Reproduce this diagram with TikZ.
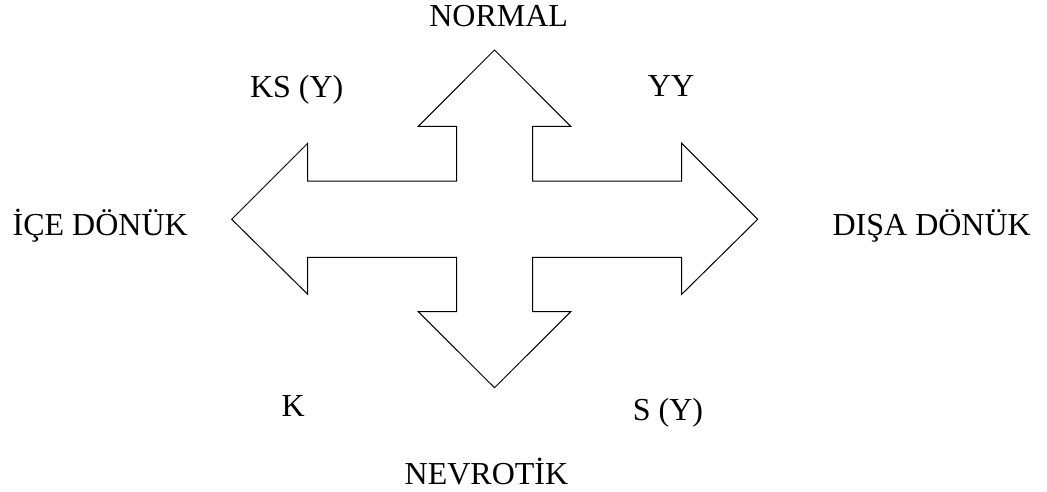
\documentclass[tikz,border=0pt]{standalone}
\usepackage{fontspec}
\setmainfont{Liberation Serif}
\begin{document}
\begin{tikzpicture}[x=1pt,y=-1pt,
  lbl/.style={anchor=base,inner sep=0pt,font=\fontsize{32}{37}\selectfont},
  cross/.style={draw=black,line width=1pt,line join=miter}]
\useasboundingbox (0,0) rectangle (1047,492);
% four-headed arrow
\draw[cross] (494.5,50) -- (570.7,126.3) -- (532.7,126.3) -- (532.7,181)
  -- (681.7,181) -- (681.7,143.3) -- (757.7,219.3) -- (681.7,294.3)
  -- (681.7,257.3) -- (532.7,257.3) -- (532.7,311.7) -- (570.7,311.7)
  -- (494.5,387.7) -- (418.3,311.7) -- (456.7,311.7) -- (456.7,257.3)
  -- (307.7,257.3) -- (307.7,294.3) -- (231.7,219.3) -- (307.7,143.3)
  -- (307.7,181) -- (456.7,181) -- (456.7,126.3) -- (418.3,126.3) -- cycle;
% axis labels
\node[lbl] (normal) at (498.7,26.7) {NORMAL};
\node[lbl] (nevrotik) at (486.5,484.3) {NEVROTİK};
\node[lbl] (ice) at (100.2,235) {İÇE DÖNÜK};
\node[lbl] (disa) at (931.7,235.5) {DIŞA DÖNÜK};
% quadrant labels
\node[lbl] (ksy) at (296.7,97.3) {KS (Y)};
\node[lbl] (yy) at (671,96.7) {YY};
\node[lbl] (k) at (293.3,416.7) {K};
\node[lbl] (sy) at (668,420) {S (Y)};
\end{tikzpicture}
\end{document}
